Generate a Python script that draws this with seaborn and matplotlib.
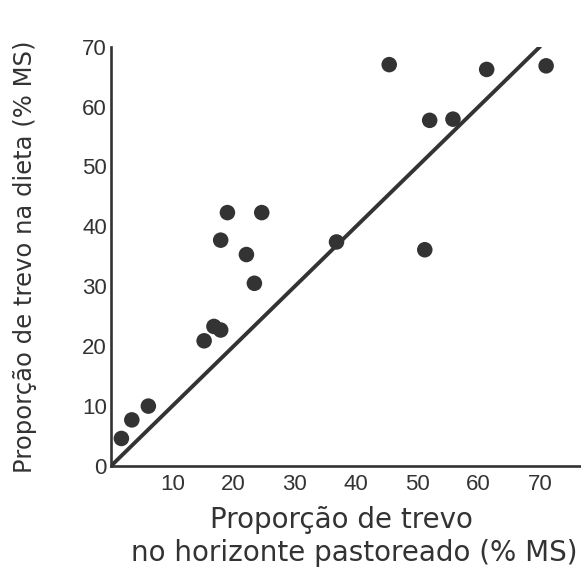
import matplotlib
matplotlib.use("Agg")
import matplotlib.pyplot as plt
import seaborn as sns
import pandas as pd

sns.set_theme(style="white")
plt.rcParams['font.family'] = ['Liberation Sans', 'DejaVu Sans']

x_pasture = [1.7, 3.4, 6.1, 15.2, 16.8, 17.9, 17.9, 19.0, 22.1, 23.4, 24.6,
             36.8, 45.4, 51.2, 52.0, 55.8, 61.3, 71.0]
y_diet = [4.6, 7.7, 10.0, 20.9, 23.3, 22.7, 37.7, 42.3, 35.3, 30.5, 42.3,
          37.4, 67.0, 36.1, 57.7, 57.9, 66.2, 66.8]
line_x = [0, 70]
line_y = [0, 70]
x_ticks = [10, 20, 30, 40, 50, 60, 70]
y_ticks = [0, 10, 20, 30, 40, 50, 60, 70]

df = pd.DataFrame({"x": x_pasture, "y": y_diet})
ink = "#333333"

fig = plt.figure(figsize=(5.81, 5.69), dpi=100)
ax = fig.add_axes([0.191, 0.181, 0.807, 0.737])

sns.lineplot(x=line_x, y=line_y, ax=ax, color=ink, linewidth=2.8)
sns.scatterplot(data=df, x="x", y="y", ax=ax, color=ink, s=125, edgecolor="none", zorder=3)

ax.set_xlim(0, 76.5)
ax.set_ylim(0, 70)
ax.set_xticks(x_ticks)
ax.set_yticks(y_ticks)
ax.set_xticklabels([str(v) for v in x_ticks])
ax.set_yticklabels([str(v) for v in y_ticks])
sns.despine(ax=ax)
for side in ["left", "bottom"]:
    ax.spines[side].set_color(ink)
    ax.spines[side].set_linewidth(1.9)
ax.tick_params(axis="both", direction="in", length=9.5, width=1.5, color=ink,
               labelcolor=ink, labelsize=16, pad=3)
ax.tick_params(axis="x", pad=6)
ax.set_xlabel("")
ax.set_ylabel("Proporção de trevo na dieta (% MS)", fontsize=17.5, color=ink,
              family=['DejaVu Sans'])
ax.yaxis.set_label_coords(-0.157, 0.5)

fig.text(0.587, 0.086, "Proporção de trevo", ha="center", va="center",
         fontsize=20, color=ink, family=['DejaVu Sans'])
fig.text(0.609, 0.028, "no horizonte pastoreado (% MS)", ha="center", va="center",
         fontsize=20, color=ink, family=['DejaVu Sans'])

fig.savefig("out.png", dpi=100)
